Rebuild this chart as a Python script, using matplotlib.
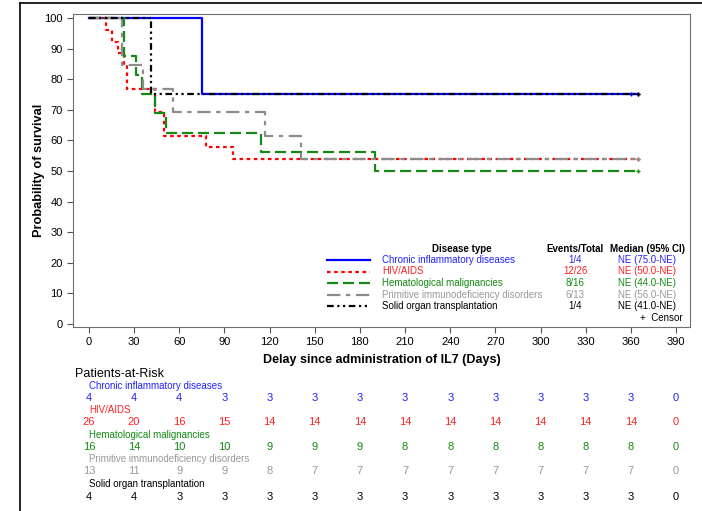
import numpy as np
import matplotlib
matplotlib.use('Agg')
import matplotlib.pyplot as plt
from matplotlib.lines import Line2D
from matplotlib.transforms import blended_transform_factory

plt.rcParams['font.family'] = ['Liberation Sans', 'DejaVu Sans']

# Kaplan-Meier steps (day, survival %)
groups = ['Chronic inflammatory diseases', 'HIV/AIDS', 'Hematological malignancies',
          'Primitive immunodeficiency disorders', 'Solid organ transplantation']
ci_t = [0, 75]
ci_s = [100, 75.0]
hiv_t = [0, 11, 15, 19, 23, 25, 44, 50, 78, 96]
hiv_s = [100, 96.2, 92.3, 88.5, 84.6, 76.9, 69.2, 61.5, 57.7, 53.8]
hem_t = [0, 23, 31, 35, 44, 51, 114, 190]
hem_s = [100, 87.5, 81.3, 75.0, 68.8, 62.5, 56.3, 50.0]
pid_t = [0, 22, 36, 56, 117, 141]
pid_s = [100, 84.6, 76.9, 69.2, 61.5, 53.8]
sot_t = [0, 41]
sot_s = [100, 75.0]
end_day = 365
censor_days = [[360, 365], [365], [365], [365], [365]]

events = ['1/4', '12/26', '8/16', '6/13', '1/4']
medians = ['NE (75.0-NE)', 'NE (50.0-NE)', 'NE (44.0-NE)', 'NE (56.0-NE)', 'NE (41.0-NE)']

risk_days = list(range(0, 391, 30))
ci_risk = [4, 4, 4, 3, 3, 3, 3, 3, 3, 3, 3, 3, 3, 0]
hiv_risk = [26, 20, 16, 15, 14, 14, 14, 14, 14, 14, 14, 14, 14, 0]
hem_risk = [16, 14, 10, 10, 9, 9, 9, 8, 8, 8, 8, 8, 8, 0]
pid_risk = [13, 11, 9, 9, 8, 7, 7, 7, 7, 7, 7, 7, 7, 0]
sot_risk = [4, 4, 3, 3, 3, 3, 3, 3, 3, 3, 3, 3, 3, 0]

times = [ci_t, hiv_t, hem_t, pid_t, sot_t]
survs = [ci_s, hiv_s, hem_s, pid_s, sot_s]
risks = [ci_risk, hiv_risk, hem_risk, pid_risk, sot_risk]
colors = ['#0000ff', '#ff0000', '#138a13', '#8c8c8c', '#000000']
text_colors = ['#2222ff', '#ff2020', '#138a13', '#999999', '#000000']
dashes = [(None, None), (1.6, 1.6), (5, 2.2), (6, 2.5, 2, 2.5), (3, 1.6, 1, 1.6, 1, 1.6)]

W, H = 702, 511
fig = plt.figure(figsize=(W / 100, H / 100), dpi=100)


def fx(px):
    return px / W


def fy(py):
    return 1 - py / H


ax = fig.add_axes([fx(73), fy(327), fx(690 - 73), (327 - 14) / H])

for i in range(5):
    t = list(times[i]) + [end_day]
    s = list(survs[i]) + [survs[i][-1]]
    ln, = ax.step(t, s, where='post', color=colors[i], lw=1.6)
    if dashes[i][0] is not None:
        ln.set_dashes(dashes[i])
    cd = censor_days[i]
    ax.plot(cd, [survs[i][-1]] * len(cd), ls='none', marker='+', ms=3.5,
            mew=1.0, color=colors[i])

ax.set_xlim(-10.6, 399.3)
ax.set_ylim(-1.0, 101.3)
ax.set_xticks(risk_days)
ax.set_yticks(range(0, 101, 10))
ax.tick_params(labelsize=8, length=4, color='#555555')
for sp in ax.spines.values():
    sp.set_color('#707070')
ax.set_xlabel('Delay since administration of IL7 (Days)', fontsize=9,
              fontweight='bold', labelpad=5)
ax.set_ylabel('Probability of survival', fontsize=9.2, fontweight='bold')
ax.yaxis.set_label_coords(-0.046, 0.5)

# legend table inside the plot
fs = 7
fig.text(fx(462), fy(249), 'Disease type', ha='center', va='center', fontsize=fs, fontweight='bold')
fig.text(fx(575), fy(249), 'Events/Total', ha='center', va='center', fontsize=fs, fontweight='bold')
fig.text(fx(647), fy(249), 'Median (95% CI)', ha='center', va='center', fontsize=fs, fontweight='bold')
row_y = [260, 271.5, 283, 294.5, 306]
for i in range(5):
    l = Line2D([fx(327), fx(370)], [fy(row_y[i])] * 2, color=colors[i], lw=1.6,
               transform=fig.transFigure)
    if dashes[i][0] is not None:
        l.set_dashes(dashes[i])
    fig.add_artist(l)
    fig.text(fx(382), fy(row_y[i]), groups[i], ha='left', va='center', fontsize=fs, color=text_colors[i])
    fig.text(fx(575), fy(row_y[i]), events[i], ha='center', va='center', fontsize=fs, color=text_colors[i])
    fig.text(fx(647), fy(row_y[i]), medians[i], ha='center', va='center', fontsize=fs, color=text_colors[i])
fig.text(fx(683), fy(318), '+  Censor', ha='right', va='center', fontsize=fs)

# patients at risk table
fig.text(fx(75), fy(374), 'Patients-at-Risk', ha='left', va='center', fontsize=9)
tr = blended_transform_factory(ax.transData, fig.transFigure)
label_y = [386, 410, 435, 459, 484]
num_y = [398, 422, 447, 471, 497]
for i in range(5):
    fig.text(fx(89), fy(label_y[i]), groups[i], ha='left', va='center', fontsize=7, color=text_colors[i])
    for d, n in zip(risk_days, risks[i]):
        ax.text(d, fy(num_y[i]), str(n), transform=tr, ha='center', va='center',
                fontsize=8, color=text_colors[i])

# outer frame
fig.add_artist(Line2D([fx(20), 1], [fy(3), fy(3)], color='black', lw=1.2, transform=fig.transFigure))
fig.add_artist(Line2D([fx(20), fx(20)], [fy(3), 0], color='black', lw=1.2, transform=fig.transFigure))

fig.savefig('out.png', dpi=100)
